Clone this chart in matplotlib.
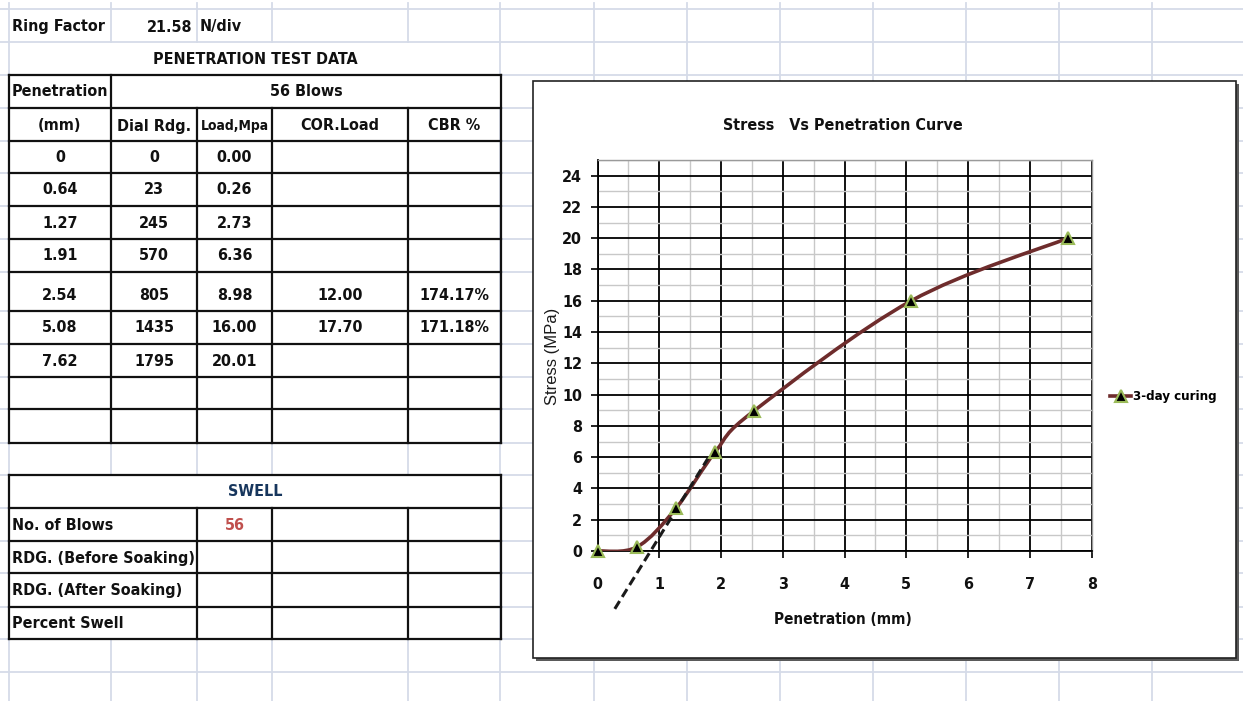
import matplotlib
matplotlib.use("Agg")
import matplotlib.pyplot as plt
import matplotlib.font_manager as fm
import numpy as np
from matplotlib.path import Path
from matplotlib.patches import PathPatch, Rectangle
from matplotlib.lines import Line2D
from matplotlib.ticker import MultipleLocator

# ---- data ----
ring_factor = 21.58
blows = 56
penetration = [0, 0.64, 1.27, 1.91, 2.54, 5.08, 7.62]
dial_rdg = [0, 23, 245, 570, 805, 1435, 1795]
load_mpa = [0.00, 0.26, 2.73, 6.36, 8.98, 16.00, 20.01]
cor_load = ["", "", "", "", "12.00", "17.70", ""]
cbr_pct = ["", "", "", "", "174.17%", "171.18%", ""]
swell_labels = ["No. of Blows", "RDG. (Before Soaking)", "RDG. (After Soaking)", "Percent Swell"]
series_name = "3-day curing"
# correction (tangent) line through the steep part of the curve
tangent_x = [0.28, 1.80]
tangent_y = [-3.7, 6.0]


def find_narrow():
    # look for an installed narrow / condensed bold face
    best, best_score = None, -1
    for f in fm.fontManager.ttflist:
        tag = (f.name + " " + str(f.fname) + " " + str(f.stretch)).lower()
        if not ("narrow" in tag or "condensed" in tag):
            continue
        if f.style != "normal":
            continue
        w = f.weight if isinstance(f.weight, int) else fm.weight_dict.get(f.weight, 400)
        score = 0
        if w >= 600:
            score += 10
        if "liberation" in tag:
            score += 5
        if "semi" not in tag and "extra" not in tag:
            score += 2
        if score > best_score:
            best, best_score = f.fname, score
    return best


narrow_file = find_narrow()
SCALE = 1.0 if narrow_file else 0.8


def fp(size):
    if narrow_file:
        return fm.FontProperties(fname=narrow_file, size=size * SCALE)
    return fm.FontProperties(family="DejaVu Sans", weight="bold",
                             stretch="condensed", size=size * SCALE)


GRID = "#D5DBE8"
INK = "#111111"
CURVE = "#6E2C2C"

fig = plt.figure(figsize=(12.43, 7.01), dpi=100)

# background sheet, drawn in pixel coordinates
bg = fig.add_axes([0, 0, 1, 1])
bg.set_xlim(0, 1243)
bg.set_ylim(701, 0)
bg.axis("off")

grid_rows = [9, 42, 75, 108, 141, 173, 206, 239, 272, 311, 344, 377, 409, 443,
             475, 508, 541, 573, 607, 639, 672]
grid_cols = [9, 111, 197, 272, 408, 500, 594, 687, 780, 873, 966, 1059, 1152]
for y in grid_rows:
    bg.plot([0, 1243], [y, y], color=GRID, lw=1.3, zorder=1)
for x in grid_cols:
    bg.plot([x, x], [3, 701], color=GRID, lw=1.3, zorder=1)

# merged cells hide the gridlines
for (x0, y0, x1, y1) in [(10, 43, 499, 74), (112, 76, 500, 107),
                         (10, 476, 500, 507), (10, 509, 196, 638)]:
    bg.add_patch(Rectangle((x0, y0), x1 - x0, y1 - y0, fc="white", ec="none", zorder=2))

cols = [9, 111, 197, 272, 408, 501]
main_rows = [75, 108, 141, 173, 206, 239, 272, 311, 344, 377, 409, 443]
swell_rows = [475, 508, 541, 573, 607, 639]
BW = 1.6


def hline(y, x0=cols[0], x1=cols[-1]):
    bg.plot([x0, x1], [y, y], color=INK, lw=BW, zorder=3, solid_capstyle="projecting")


def vline(x, y0, y1):
    bg.plot([x, x], [y0, y1], color=INK, lw=BW, zorder=3, solid_capstyle="projecting")


for y in main_rows:
    hline(y)
vline(cols[0], 75, 443)
vline(cols[1], 75, 443)
vline(cols[-1], 75, 443)
for x in cols[2:5]:
    vline(x, 108, 443)

for y in swell_rows:
    hline(y)
vline(cols[0], 475, 639)
vline(cols[-1], 475, 639)
for x in cols[2:5]:
    vline(x, 508, 639)

FS = 11.5


def put(x, y, s, ha="center", size=FS, color=INK, **kw):
    bg.text(x, y, s, ha=ha, va="center", fontproperties=fp(size), color=color,
            zorder=7, **kw)


put(12, 27, "Ring Factor", ha="left")
put(192, 27, f"{ring_factor:.2f}", ha="right")
put(200, 27, "N/div", ha="left")
put(255, 59, "PENETRATION TEST DATA")
put(60, 92, "Penetration")
put(306, 92, f"{blows} Blows")
centers = [(cols[i] + cols[i + 1]) / 2 for i in range(5)]
heads = ["(mm)", "Dial Rdg.", "Load,Mpa", "COR.Load", "CBR %"]
for c, h in zip(centers, heads):
    put(c, 126, h, size=10 if h == "Load,Mpa" else FS)

for i in range(len(penetration)):
    yb = main_rows[i + 3] - 16
    vals = [f"{penetration[i]:g}", f"{dial_rdg[i]}", f"{load_mpa[i]:.2f}",
            cor_load[i], cbr_pct[i]]
    for c, v in zip(centers, vals):
        put(c, yb, v)

put(255, 492, "SWELL", color="#17365D")
for i, lab in enumerate(swell_labels):
    put(12, swell_rows[i + 1] + 17, lab, ha="left")
put(centers[2], 525, f"{blows}", color="#C0504D")

# chart frame with shadow
bg.add_patch(Rectangle((536, 84), 703, 577, fc="#5A5A5A", ec="none", zorder=5))
bg.add_patch(Rectangle((533, 81), 703, 577, fc="white", ec="#222222", lw=1.2, zorder=6))
put(843, 125, "Stress   Vs Penetration Curve", size=11.5)
put(843, 620, "Penetration (mm)", size=11)
bg.text(553, 356, "Stress (MPa)", ha="center", va="center", rotation=90,
        fontsize=12, family=["Liberation Sans", "DejaVu Sans"], color="#1A1A1A",
        zorder=7)

# chart axes
L, R, T, B = 597.5, 1091.7, 160, 551
ax = fig.add_axes([L / 1243, 1 - B / 701, (R - L) / 1243, (B - T) / 701])
ax.set_xlim(0, 8)
ax.set_ylim(0, 25)
ax.xaxis.set_major_locator(MultipleLocator(1))
ax.xaxis.set_minor_locator(MultipleLocator(0.5))
ax.set_yticks(np.arange(0, 25, 2))
ax.yaxis.set_minor_locator(MultipleLocator(1))
ax.set_axisbelow(True)
ax.grid(which="minor", color="#C8C8C8", lw=1.0)
ax.grid(which="major", color="black", lw=1.3)
ax.tick_params(which="minor", length=0)
ax.tick_params(which="major", direction="out", length=5, width=1.3, colors=INK)
ax.tick_params(axis="x", pad=14)
ax.tick_params(axis="y", pad=6)
for lab in ax.get_xticklabels() + ax.get_yticklabels():
    lab.set_fontproperties(fp(11.5))
for s in ["left", "bottom"]:
    ax.spines[s].set_color("black")
    ax.spines[s].set_linewidth(1.3)
for s in ["top", "right"]:
    ax.spines[s].set_color("#9A9A9A")
    ax.spines[s].set_linewidth(1.0)

# smoothed line (Excel-style bezier through the points)
pts = np.column_stack([penetration, load_mpa])
n = len(pts)
verts = [pts[0]]
codes = [Path.MOVETO]
for i in range(n - 1):
    p_prev = pts[max(i - 1, 0)]
    p_next = pts[min(i + 2, n - 1)]
    c1 = pts[i] + (pts[i + 1] - p_prev) / 6
    c2 = pts[i + 1] - (p_next - pts[i]) / 6
    verts += [c1, c2, pts[i + 1]]
    codes += [Path.CURVE4] * 3
ax.add_patch(PathPatch(Path(verts, codes), fc="none", ec=CURVE, lw=2.6,
                       capstyle="round", zorder=3))
ax.plot(penetration, load_mpa, ls="none", marker="^", ms=9, mfc="black",
        mec="#9BBB59", mew=1.5, clip_on=False, zorder=4)
ax.plot(tangent_x, tangent_y, color="#1A1A1A", lw=2.2, ls=(0, (3, 1.6)),
        clip_on=False, zorder=3)

handle = Line2D([], [], color=CURVE, lw=2.6, marker="^", ms=9, mfc="black",
                mec="#9BBB59", mew=1.5)
ax.legend([handle], [series_name], loc="center left",
          bbox_to_anchor=(1110 / 1243, 1 - 397 / 701), bbox_transform=fig.transFigure,
          frameon=False, borderpad=0, borderaxespad=0, handlelength=1.6,
          handletextpad=0.15, prop=fp(9.5))

fig.savefig("out.png", dpi=100)
